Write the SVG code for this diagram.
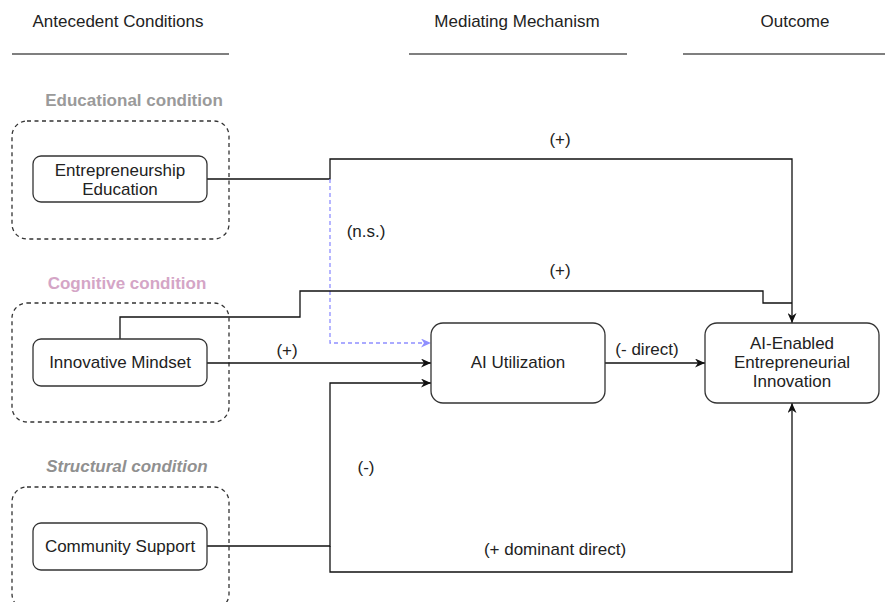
<svg xmlns="http://www.w3.org/2000/svg" width="885" height="602" viewBox="0 0 885 602">
<defs>
<style>
text{font-family:"Liberation Sans",Arial,sans-serif;font-size:17px;fill:#222;text-anchor:middle}
.hdr{stroke:#555;stroke-width:1.5}
.grp{fill:none;stroke:#333;stroke-width:1.3;stroke-dasharray:4 3.5}
.node{fill:#fff;stroke:#333;stroke-width:1.3}
.gl{font-weight:bold;fill:#9a9a9a}
.edge{fill:none;stroke:#111;stroke-width:1.3}
.ns{fill:none;stroke:#8f8fff;stroke-width:1.3;stroke-dasharray:4 3}
</style>
<marker id="arr" markerWidth="11" markerHeight="9" refX="10" refY="4.5" orient="auto" markerUnits="userSpaceOnUse">
<path d="M0,0 L10,4.5 L0,9 L3,4.5 z" fill="#111"/>
</marker>
<marker id="arrb" markerWidth="11" markerHeight="9" refX="10" refY="4.5" orient="auto" markerUnits="userSpaceOnUse">
<path d="M0,0 L10,4.5 L0,9 L3,4.5 z" fill="#8f8fff"/>
</marker>
</defs>
<rect width="885" height="602" fill="#fff"/>

<g id="headers">
<text x="118" y="27">Antecedent Conditions</text>
<line class="hdr" x1="12" y1="54" x2="229" y2="54"/>
<text x="517" y="27">Mediating Mechanism</text>
<line class="hdr" x1="409" y1="54" x2="627" y2="54"/>
<text x="795" y="27">Outcome</text>
<line class="hdr" x1="683" y1="54" x2="885" y2="54"/>
</g>

<g id="group-educational">
<text class="gl" x="134" y="106">Educational condition</text>
<rect class="grp" x="12" y="121" width="217" height="118" rx="15"/>
</g>
<g id="group-cognitive">
<text class="gl" x="127" y="289" style="fill:#d4a5c6">Cognitive condition</text>
<rect class="grp" x="12" y="303" width="217" height="119" rx="15"/>
</g>
<g id="group-structural">
<text class="gl" x="127" y="472" style="font-style:italic;fill:#909090">Structural condition</text>
<rect class="grp" x="12" y="487" width="217" height="122" rx="15"/>
</g>

<g id="connectors">
<path class="edge" d="M207,179 H330 V159 H792 V323" marker-end="url(#arr)"/>
<text x="560" y="145">(+)</text>
<path class="ns" d="M330,179 V343 H431" marker-end="url(#arrb)"/>
<text x="366" y="237">(n.s.)</text>
<path class="edge" d="M120,339 V317 H300 V291 H763 V303 H792"/>
<text x="560" y="276">(+)</text>
<path class="edge" d="M207,363 H431" marker-end="url(#arr)"/>
<text x="287" y="356">(+)</text>
<path class="edge" d="M605,363 H705" marker-end="url(#arr)"/>
<text x="647" y="355">(- direct)</text>
<path class="edge" d="M207,546 H330 V383 H431" marker-end="url(#arr)"/>
<text x="366" y="473">(-)</text>
<path class="edge" d="M330,546 V572 H792 V403" marker-end="url(#arr)"/>
<text x="555" y="555">(+ dominant direct)</text>
</g>

<g id="node-entrepreneurship-education">
<rect class="node" x="33" y="156" width="174" height="46" rx="8"/>
<text x="120" y="176">Entrepreneurship</text>
<text x="120" y="195">Education</text>
</g>
<g id="node-innovative-mindset">
<rect class="node" x="33" y="339" width="174" height="47" rx="8"/>
<text x="120" y="368">Innovative Mindset</text>
</g>
<g id="node-community-support">
<rect class="node" x="33" y="523" width="174" height="47" rx="8"/>
<text x="120" y="552">Community Support</text>
</g>
<g id="node-ai-utilization">
<rect class="node" x="431" y="323" width="174" height="80" rx="12"/>
<text x="518" y="368">AI Utilization</text>
</g>
<g id="node-ai-enabled">
<rect class="node" x="705" y="323" width="174" height="80" rx="12"/>
<text x="792" y="349">AI-Enabled</text>
<text x="792" y="368">Entrepreneurial</text>
<text x="792" y="387">Innovation</text>
</g>
</svg>
